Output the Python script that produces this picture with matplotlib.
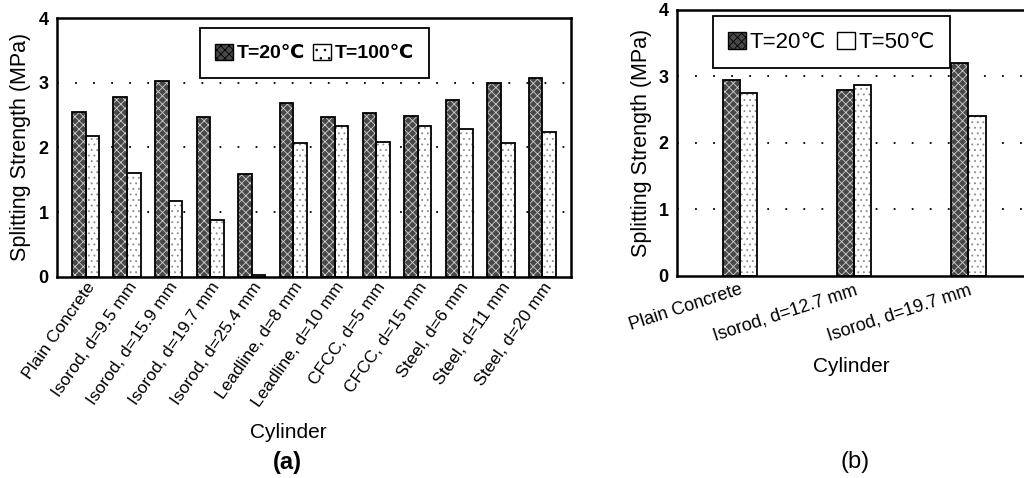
import numpy as np
import matplotlib
matplotlib.use("Agg")
import matplotlib.pyplot as plt
from matplotlib.patches import Patch

plt.rcParams['font.family'] = ['Liberation Sans', 'DejaVu Sans']
plt.rcParams['hatch.linewidth'] = 0.6

# panel (a)
labels_a = ["Plain Concrete", "Isorod, d=9.5 mm", "Isorod, d=15.9 mm", "Isorod, d=19.7 mm",
            "Isorod, d=25.4 mm", "Leadline, d=8 mm", "Leadline, d=10 mm", "CFCC, d=5 mm",
            "CFCC, d=15 mm", "Steel, d=6 mm", "Steel, d=11 mm", "Steel, d=20 mm"]
t20_a = [2.55, 2.78, 3.02, 2.47, 1.59, 2.68, 2.47, 2.53, 2.49, 2.73, 3.00, 3.08]
t100_a = [2.17, 1.60, 1.17, 0.88, 0.03, 2.06, 2.33, 2.08, 2.33, 2.28, 2.07, 2.24]

# panel (b)
labels_b = ["Plain Concrete", "Isorod, d=12.7 mm", "Isorod, d=19.7 mm"]
t20_b = [2.94, 2.80, 3.21]
t50_b = [2.75, 2.87, 2.40]

DARK = '#484848'


def hatched_bars(ax, x, vals, w, dark):
    if dark:
        ax.bar(x, vals, w, color=DARK, edgecolor='#cfcfcf', hatch='xxxx', lw=0, zorder=2)
    else:
        ax.bar(x, vals, w, color='white', edgecolor='#8a8a8a', hatch='...', lw=0, zorder=2)
    ax.bar(x, vals, w, fill=False, edgecolor='black', lw=1.3, zorder=3)


def style_axes(ax):
    ax.set_ylim(0, 4)
    ax.set_yticks([0, 1, 2, 3, 4])
    ax.set_yticklabels(['0', '1', '2', '3', '4'], fontweight='bold', fontsize=13)
    ax.tick_params(axis='both', length=0)
    ax.tick_params(axis='y', pad=6)
    for s in ax.spines.values():
        s.set_linewidth(1.8)
    for yv in [1, 2, 3]:
        ax.axhline(yv, color='black', lw=1.3, ls=(0, (1, 9)), zorder=1)
    ax.set_ylabel("Splitting Strength (MPa)", fontsize=15.5)


fig = plt.figure(figsize=(10.24, 4.78), dpi=100)

ax1 = fig.add_axes([0.0557, 0.4211, 0.5019, 0.5412])
x = np.arange(len(labels_a))
w = 0.33
hatched_bars(ax1, x - w / 2, t20_a, w, True)
hatched_bars(ax1, x + w / 2, t100_a, w, False)
style_axes(ax1)
ax1.set_xlim(-0.69, 11.69)
ax1.set_xticks(x)
ax1.set_xticklabels(labels_a, rotation=55, ha='right', va='top', rotation_mode='anchor', fontsize=12.5)
ax1.tick_params(axis='x', pad=2)
ax1.yaxis.set_label_coords(-0.05, 0.5)
ax1.set_xlabel("Cylinder", fontsize=15)
ax1.xaxis.set_label_coords(0.45, -0.565)
h1 = [Patch(facecolor=DARK, edgecolor='black', hatch='xxxx'),
      Patch(facecolor='white', edgecolor='black', hatch='..')]
leg1 = ax1.legend(h1, ["T=20℃", "T=100℃"], ncol=2, loc='upper left', bbox_to_anchor=(0.278, 0.961),
                  borderaxespad=0, frameon=True, fancybox=False, edgecolor='black', framealpha=1,
                  prop={'weight': 'bold', 'size': 14}, handlelength=0.9, handleheight=0.9,
                  handletextpad=0.2, columnspacing=0.4, borderpad=0.8)
leg1.get_frame().set_linewidth(1.3)

ax2 = fig.add_axes([0.661, 0.4226, 0.355, 0.5565])
xb = np.arange(len(labels_b))
wb = 0.15
hatched_bars(ax2, xb - wb / 2, t20_b, wb, True)
hatched_bars(ax2, xb + wb / 2, t50_b, wb, False)
style_axes(ax2)
ax2.set_xlim(-0.55, 2.63)
ax2.set_xticks(xb)
ax2.set_xticklabels(labels_b, rotation=18, ha='right', va='top', rotation_mode='anchor', fontsize=13)
ax2.tick_params(axis='x', pad=4)
ax2.yaxis.set_label_coords(-0.068, 0.5)
ax2.set_xlabel("Cylinder", fontsize=15)
ax2.xaxis.set_label_coords(0.48, -0.305)
h2 = [Patch(facecolor=DARK, edgecolor='black', hatch='xxxx'),
      Patch(facecolor='white', edgecolor='black')]
leg2 = ax2.legend(h2, ["T=20℃", "T=50℃"], ncol=2, loc='upper left', bbox_to_anchor=(0.099, 0.977),
                  borderaxespad=0, frameon=True, fancybox=False, edgecolor='black', framealpha=1,
                  prop={'size': 16}, handlelength=0.8, handleheight=0.8,
                  handletextpad=0.15, columnspacing=0.5, borderpad=0.7)
leg2.get_frame().set_linewidth(1.3)

fig.text(0.281, 0.033, "(a)", fontsize=17, fontweight='bold', ha='center', va='center')
fig.text(0.835, 0.033, "(b)", fontsize=17, ha='center', va='center')

fig.savefig("out.png", dpi=100)
